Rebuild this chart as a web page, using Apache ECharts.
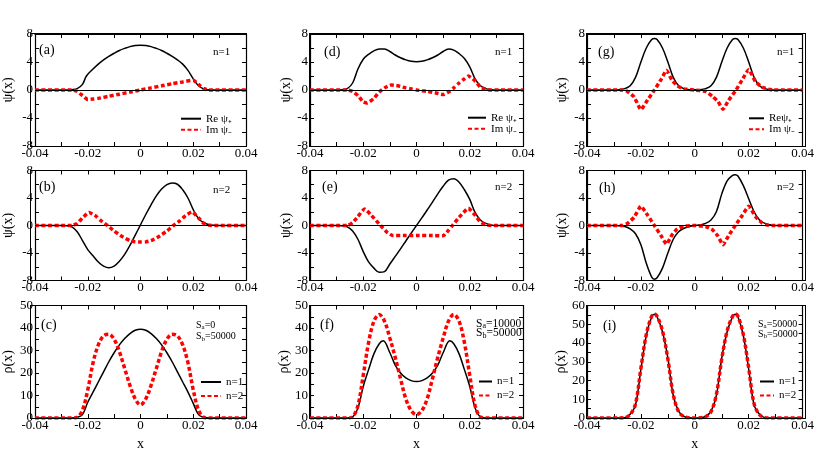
<!DOCTYPE html>
<html>
<head>
<meta charset="utf-8">
<script src="https://cdn.jsdelivr.net/npm/echarts@6/dist/echarts.min.js"></script>
<style>
html, body { margin: 0; background: #fff; }
#wrap { position: relative; width: 817px; height: 476px; }
#wrap div.panel { position: absolute; left: 0; top: 0; width: 817px; height: 476px; }
#wrap div.box { position: absolute; box-sizing: border-box; border: 1.2px solid #000; pointer-events: none; z-index: 10; }
</style>
</head>
<body>
<div id="wrap"></div>
<script>
// x tick labels (shared by every panel)
var xTicks = [-0.04, -0.02, 0, 0.02, 0.04];

// column 1: Sa = 0
var aRe = [[-0.04,0],[-0.028,0],[-0.026,0.05],[-0.024,0.2],[-0.022,0.8],[-0.0205,2.0],[-0.018,3.0],[-0.016,3.7],[-0.014,4.3],[-0.012,4.8],[-0.010,5.25],[-0.008,5.65],[-0.006,5.95],[-0.004,6.2],[-0.002,6.35],[0,6.4],[0.002,6.35],[0.004,6.2],[0.006,5.95],[0.008,5.65],[0.010,5.25],[0.012,4.8],[0.014,4.3],[0.016,3.7],[0.018,2.8],[0.020,1.6],[0.022,0.6],[0.024,0.15],[0.026,0.03],[0.028,0],[0.04,0]];
var aIm = [[-0.04,0],[-0.026,0],[-0.024,-0.2],[-0.022,-0.8],[-0.020,-1.35],[-0.018,-1.3],[-0.016,-1.2],[-0.012,-0.9],[-0.008,-0.6],[-0.004,-0.3],[0,0],[0.004,0.3],[0.008,0.6],[0.012,0.9],[0.016,1.15],[0.020,1.4],[0.022,0.8],[0.024,0.2],[0.026,0],[0.04,0]];
var bRe = [[-0.04,0],[-0.03,0],[-0.028,-0.02],[-0.026,-0.2],[-0.024,-0.9],[-0.022,-2.2],[-0.020,-3.5],[-0.018,-4.4],[-0.016,-5.3],[-0.014,-5.9],[-0.012,-6.15],[-0.010,-5.9],[-0.008,-5.2],[-0.006,-4.2],[-0.004,-2.9],[-0.002,-1.4],[0,0.1],[0.002,1.6],[0.004,3.0],[0.006,4.3],[0.008,5.3],[0.010,5.95],[0.012,6.2],[0.014,6.0],[0.016,5.2],[0.018,4.0],[0.020,2.3],[0.022,1.0],[0.024,0.4],[0.026,0.12],[0.028,0.03],[0.03,0],[0.04,0]];
var bIm = [[-0.04,0],[-0.026,0],[-0.024,0.3],[-0.022,1.1],[-0.0195,1.9],[-0.017,1.4],[-0.015,0.7],[-0.0125,0],[-0.01,-0.8],[-0.007,-1.6],[-0.004,-2.2],[-0.002,-2.38],[0,-2.4],[0.002,-2.38],[0.004,-2.2],[0.007,-1.6],[0.01,-0.8],[0.0125,0],[0.015,0.7],[0.017,1.4],[0.0195,2.0],[0.022,1.1],[0.024,0.3],[0.026,0.05],[0.028,0],[0.04,0]];
var cN1 = [[-0.04,0],[-0.026,0],[-0.024,0.3],[-0.022,1.5],[-0.020,7],[-0.018,11.5],[-0.016,16],[-0.014,20.5],[-0.012,25],[-0.010,29],[-0.008,32.5],[-0.006,35.3],[-0.004,37.5],[-0.002,39],[0,39.5],[0.002,39],[0.004,37.5],[0.006,35.3],[0.008,32.5],[0.010,29],[0.012,25],[0.014,20.5],[0.016,16],[0.018,11.5],[0.020,6.5],[0.022,1.5],[0.024,0.3],[0.026,0],[0.04,0]];
var cN2 = [[-0.04,0],[-0.026,0],[-0.024,0.3],[-0.022,3.5],[-0.020,12.5],[-0.018,24.5],[-0.016,32.5],[-0.014,36.5],[-0.012,37.2],[-0.010,35],[-0.008,29.5],[-0.006,22],[-0.004,14.5],[-0.002,8.5],[0,5.8],[0.002,8.5],[0.004,14.5],[0.006,22],[0.008,29.5],[0.010,35],[0.012,37.2],[0.014,36.5],[0.016,32.5],[0.018,24.5],[0.020,12.5],[0.022,3.5],[0.024,0.3],[0.026,0],[0.04,0]];

// column 2: Sa = 10000
var dRe = [[-0.04,0],[-0.03,0],[-0.028,0.03],[-0.026,0.2],[-0.024,1.0],[-0.022,3.0],[-0.020,4.4],[-0.018,5.1],[-0.016,5.6],[-0.014,5.85],[-0.012,5.85],[-0.010,5.5],[-0.008,5.0],[-0.006,4.6],[-0.004,4.3],[-0.002,4.1],[0,4.05],[0.002,4.1],[0.004,4.3],[0.006,4.6],[0.008,5.0],[0.010,5.5],[0.012,5.85],[0.014,5.7],[0.016,5.2],[0.018,4.5],[0.020,3.3],[0.022,1.6],[0.024,0.6],[0.026,0.2],[0.028,0.05],[0.03,0],[0.04,0]];
var dIm = [[-0.04,0],[-0.026,0],[-0.024,-0.2],[-0.022,-0.8],[-0.020,-1.7],[-0.0185,-1.85],[-0.016,-1.2],[-0.014,-0.3],[-0.012,0.3],[-0.0095,0.7],[-0.007,0.6],[-0.004,0.3],[-0.002,0.15],[0,0],[0.002,-0.1],[0.004,-0.2],[0.007,-0.4],[0.010,-0.65],[0.012,-0.3],[0.014,0.3],[0.016,1.0],[0.018,1.6],[0.0195,2.0],[0.022,1.3],[0.024,0.4],[0.026,0.1],[0.028,0],[0.04,0]];
var eRe = [[-0.04,0],[-0.03,0],[-0.028,-0.05],[-0.026,-0.2],[-0.024,-0.8],[-0.022,-2.0],[-0.020,-3.8],[-0.018,-5.3],[-0.016,-6.2],[-0.014,-6.8],[-0.012,-6.7],[-0.010,-5.6],[-0.008,-4.5],[-0.006,-3.4],[-0.004,-2.25],[-0.002,-1.1],[0,0],[0.002,1.1],[0.004,2.25],[0.006,3.4],[0.008,4.6],[0.010,5.7],[0.012,6.6],[0.014,6.8],[0.016,6.3],[0.018,5.2],[0.020,3.8],[0.022,1.9],[0.024,0.8],[0.026,0.3],[0.028,0.08],[0.03,0],[0.04,0]];
var eIm = [[-0.04,0],[-0.026,0],[-0.024,0.4],[-0.022,1.3],[-0.0195,2.4],[-0.017,1.5],[-0.0135,0],[-0.011,-1.0],[-0.009,-1.45],[-0.005,-1.45],[0,-1.45],[0.005,-1.45],[0.010,-1.5],[0.012,-0.7],[0.0135,0],[0.016,1.2],[0.0195,2.5],[0.022,1.5],[0.024,0.5],[0.026,0.1],[0.028,0],[0.04,0]];
var fN1 = [[-0.04,0],[-0.026,0],[-0.024,0.5],[-0.022,4.5],[-0.020,14],[-0.018,21.5],[-0.016,28.5],[-0.014,33],[-0.0125,34.3],[-0.010,29],[-0.008,23.5],[-0.006,20],[-0.004,17.8],[-0.002,16.6],[0,16.2],[0.002,16.6],[0.004,17.8],[0.006,20],[0.008,23.5],[0.010,29],[0.0125,34.3],[0.014,33],[0.016,28.5],[0.018,21.5],[0.020,14],[0.022,4.5],[0.024,0.5],[0.026,0],[0.04,0]];
var fN2 = [[-0.04,0],[-0.026,0],[-0.024,0.5],[-0.022,5.5],[-0.020,19],[-0.018,33.5],[-0.016,43],[-0.014,46],[-0.012,43],[-0.010,35.5],[-0.008,27],[-0.006,17.5],[-0.004,8.5],[-0.002,3.3],[0,1.5],[0.002,3.3],[0.004,8.5],[0.006,17.5],[0.008,27],[0.010,35.5],[0.012,43],[0.014,46],[0.016,43],[0.018,33.5],[0.020,19],[0.022,5.5],[0.024,0.5],[0.026,0],[0.04,0]];

// column 3: Sa = 50000
var gRe = [[-0.04,0],[-0.03,0],[-0.028,0.05],[-0.026,0.2],[-0.024,0.6],[-0.022,1.8],[-0.020,4.0],[-0.018,6.0],[-0.016,7.2],[-0.015,7.35],[-0.014,7.2],[-0.012,6.0],[-0.010,4.0],[-0.008,1.8],[-0.006,0.6],[-0.004,0.2],[-0.002,0.05],[0,0.02],[0.002,0.05],[0.004,0.2],[0.006,0.6],[0.008,1.8],[0.010,4.0],[0.012,6.0],[0.014,7.2],[0.015,7.35],[0.016,7.2],[0.018,6.0],[0.020,4.0],[0.022,1.8],[0.024,0.6],[0.026,0.2],[0.028,0.05],[0.03,0],[0.04,0]];
var gIm = [[-0.04,0],[-0.027,0],[-0.025,-0.2],[-0.0225,-1.0],[-0.020,-2.8],[-0.0175,-1.4],[-0.015,0],[-0.0125,1.5],[-0.0105,2.8],[-0.0085,1.4],[-0.0065,0.6],[-0.004,0.15],[0,0],[0.004,-0.2],[0.0065,-0.9],[0.0085,-1.6],[0.0105,-2.75],[0.0125,-1.5],[0.0153,0],[0.0175,1.4],[0.020,2.9],[0.0225,1.2],[0.025,0.4],[0.0275,0.1],[0.029,0],[0.04,0]];
var hRe = [[-0.04,0],[-0.03,0],[-0.028,-0.05],[-0.026,-0.15],[-0.024,-0.5],[-0.022,-1.2],[-0.020,-2.8],[-0.018,-5.5],[-0.016,-7.5],[-0.015,-7.8],[-0.014,-7.6],[-0.012,-6.2],[-0.010,-4.0],[-0.008,-2.0],[-0.006,-0.9],[-0.004,-0.4],[-0.002,-0.15],[0,0],[0.002,0.1],[0.004,0.3],[0.006,0.8],[0.008,2.0],[0.010,4.6],[0.012,6.5],[0.014,7.3],[0.015,7.4],[0.016,7.2],[0.018,5.8],[0.020,3.9],[0.022,2.0],[0.024,0.8],[0.026,0.3],[0.028,0.1],[0.03,0],[0.04,0]];
var hIm = [[-0.04,0],[-0.027,0],[-0.025,0.3],[-0.0225,1.2],[-0.020,2.8],[-0.0175,1.5],[-0.015,0],[-0.0125,-1.5],[-0.0105,-2.7],[-0.0085,-1.4],[-0.0065,-0.5],[-0.004,-0.1],[0,0],[0.004,-0.15],[0.0065,-0.6],[0.0085,-1.5],[0.0105,-2.8],[0.0125,-1.5],[0.015,0],[0.0175,1.4],[0.020,2.8],[0.0225,1.3],[0.025,0.35],[0.027,0.05],[0.029,0],[0.04,0]];
var iN1 = [[-0.04,0],[-0.028,0],[-0.026,0.2],[-0.024,2.0],[-0.022,7],[-0.020,26],[-0.018,44],[-0.016,54],[-0.015,55.3],[-0.014,54],[-0.012,46],[-0.010,32],[-0.008,12],[-0.006,3.5],[-0.004,0.8],[-0.002,0.1],[0,0],[0.002,0.1],[0.004,0.8],[0.006,3.5],[0.008,12],[0.010,32],[0.012,46],[0.014,54],[0.015,55.3],[0.016,54],[0.018,44],[0.020,26],[0.022,7],[0.024,2.0],[0.026,0.2],[0.028,0],[0.04,0]];
var iN2 = [[-0.04,0],[-0.028,0],[-0.026,0.2],[-0.024,1.8],[-0.022,7.5],[-0.020,26.5],[-0.018,44.5],[-0.016,54.3],[-0.015,55.5],[-0.014,54.2],[-0.012,46.5],[-0.010,31.5],[-0.008,12.5],[-0.006,3.3],[-0.004,0.7],[-0.002,0.1],[0,0],[0.002,0.1],[0.004,0.7],[0.006,3.3],[0.008,12.5],[0.010,31.5],[0.012,46.5],[0.014,54.2],[0.015,55.5],[0.016,54.3],[0.018,44.5],[0.020,26.5],[0.022,7.5],[0.024,1.8],[0.026,0.2],[0.028,0],[0.04,0]];

var FONT = 'Liberation Serif';
var colLeft = [31, 310, 587], colWidth = [215, 213, 218];
var rowTop = [34, 170.5, 305.5], rowHeight = [112, 110, 112.5];
var yGap = [20, 17, 18];

// one entry per panel
var panels = [
    { col: 0, row: 0, tag: '(a)', black: aRe, red: aIm, names: ['Re ψ₊', 'Im ψ₋'], note: 'n=1',
      lab: [39, 50], notePos: [213, 52], leg: [180, 113.2], legW: 20 },
    { col: 0, row: 1, tag: '(b)', black: bRe, red: bIm, names: ['Re ψ₊', 'Im ψ₋'], note: 'n=2',
      lab: [39, 187], notePos: [213, 190] },
    { col: 0, row: 2, tag: '(c)', black: cN1, red: cN2, names: ['n=1', 'n=2'], sa: '0', rho: true, max: 50,
      lab: [41, 325], notePos: [196, 325], sGap: 11.5, sFont: 10, leg: [200, 376.5], legW: 20 },
    { col: 1, row: 0, tag: '(d)', black: dRe, red: dIm, names: ['Re ψ₊', 'Im ψ₋'], note: 'n=1',
      lab: [324, 52], notePos: [495, 52], leg: [467, 112.2], legW: 18 },
    { col: 1, row: 1, tag: '(e)', black: eRe, red: eIm, names: ['Re ψ₊', 'Im ψ₋'], note: 'n=2',
      lab: [322, 187], notePos: [495, 187] },
    { col: 1, row: 2, tag: '(f)', black: fN1, red: fN2, names: ['n=1', 'n=2'], sa: '10000', rho: true, max: 50,
      lab: [320, 325], notePos: [476, 323.5], sGap: 9.5, sFont: 11.5, leg: [478, 376], legW: 13 },
    { col: 2, row: 0, tag: '(g)', black: gRe, red: gIm, names: ['Reψ₊', 'Im ψ₋'], note: 'n=1',
      lab: [598, 52], notePos: [777, 52], leg: [748, 112.8], legW: 15 },
    { col: 2, row: 1, tag: '(h)', black: hRe, red: hIm, names: ['Reψ₊', 'Im ψ₋'], note: 'n=2',
      lab: [599, 188], notePos: [777, 187] },
    { col: 2, row: 2, tag: '(i)', black: iN1, red: iN2, names: ['n=1', 'n=2'], sa: '50000', rho: true, max: 60,
      lab: [603, 326], notePos: [758, 324], sGap: 10, sFont: 10, leg: [759, 376], legW: 14 }
];

// same axis look on all four sides
function frame(pos) {
    return {
        show: true,
        position: pos,
        axisLine: { show: true, onZero: false, lineStyle: { color: '#000', width: 1.2 } },
        axisTick: { show: true, inside: true, length: 4, lineStyle: { color: '#000', width: 1 } },
        minorTick: { show: true, splitNumber: 2, length: 4, lineStyle: { color: '#000', width: 1 } },
        splitLine: { show: false }
    };
}

var wrap = document.getElementById('wrap');

// each panel is its own chart, stacked on a transparent full-size layer
panels.forEach(function (p) {
    var div = document.createElement('div');
    div.className = 'panel';
    wrap.appendChild(div);
    var chart = echarts.init(div);

    var gl = colLeft[p.col], gt = rowTop[p.row], gw = colWidth[p.col], gh = rowHeight[p.row];

    // plain box outline over the plot area
    var box = document.createElement('div');
    box.className = 'box';
    box.style.left = (gl - 0.6) + 'px';
    box.style.top = (gt - 0.6) + 'px';
    box.style.width = (gw + 1.2) + 'px';
    box.style.height = (gh + 1.2) + 'px';
    wrap.appendChild(box);

    var xr = { type: 'value', min: xTicks[0], max: xTicks[xTicks.length - 1], interval: xTicks[1] - xTicks[0] };
    var xBottom = Object.assign(frame('bottom'), xr, {
        axisLabel: {
            margin: 1, color: '#000', fontFamily: FONT, fontSize: 13,
            formatter: function (v) { return Math.abs(v) < 1e-9 ? '0' : v.toFixed(2); }
        },
        name: p.row === 2 ? 'x' : '', nameLocation: 'middle', nameGap: 19,
        nameTextStyle: { color: '#000', fontFamily: FONT, fontSize: 14 }
    });
    var xTop = Object.assign(frame('top'), xr, { axisLabel: { show: false } });

    var yr = { type: 'value', min: p.rho ? 0 : -8, max: p.rho ? p.max : 8, interval: p.rho ? 10 : 4 };
    var yLeft = Object.assign(frame('left'), yr, {
        axisLabel: { margin: 2, color: '#000', fontFamily: FONT, fontSize: 13 },
        name: p.rho ? 'ρ(x)' : 'ψ(x)', nameLocation: 'middle', nameGap: yGap[p.col], nameRotate: 90,
        nameTextStyle: { color: '#000', fontFamily: FONT, fontSize: 14 }
    });
    var yRight = Object.assign(frame('right'), yr, { axisLabel: { show: false } });

    var black = {
        type: 'line', name: p.names[0], xAxisIndex: 0, yAxisIndex: 0, data: p.black,
        symbol: 'none', smooth: 0.35, z: 3,
        lineStyle: { color: '#000', width: 1.5 }, itemStyle: { color: '#000' }
    };
    if (!p.rho) {
        black.markLine = {
            silent: true, symbol: 'none', label: { show: false },
            lineStyle: { color: '#000', width: 1, type: 'solid' }, data: [{ yAxis: 0 }]
        };
    }
    var red = {
        type: 'line', name: p.names[1], xAxisIndex: 0, yAxisIndex: 0, data: p.red,
        symbol: 'none', smooth: p.rho ? 0.35 : 0.15, z: 4,
        lineStyle: { color: '#ff0000', width: 3.5, type: [4, 2.5] }, itemStyle: { color: '#ff0000' }
    };

    var legend = [];
    if (p.leg) {
        legend.push({
            data: p.names, orient: 'vertical', left: p.leg[0], top: p.leg[1],
            itemWidth: p.legW, itemHeight: 8, itemGap: p.rho ? 3 : 0, padding: 0, selectedMode: false,
            itemStyle: { opacity: 0 },
            textStyle: { color: '#000', fontFamily: FONT, fontSize: 11, lineHeight: p.rho ? 11 : 9 }
        });
    }

    var graphics = [{
        type: 'text', x: p.lab[0], y: p.lab[1],
        style: { text: p.tag, fill: '#000', font: '14px "Liberation Serif"', verticalAlign: 'middle' }
    }];
    if (p.rho) {
        var subs = { s: { fontSize: p.sFont * 0.7, fontFamily: FONT, padding: [5, 0, 0, 0] } };
        var f = p.sFont + 'px "Liberation Serif"';
        graphics.push({
            type: 'text', x: p.notePos[0], y: p.notePos[1],
            style: { text: 'S{s|a}=' + p.sa, fill: '#000', font: f, verticalAlign: 'middle', rich: subs }
        });
        graphics.push({
            type: 'text', x: p.notePos[0], y: p.notePos[1] + p.sGap,
            style: { text: 'S{s|b}=50000', fill: '#000', font: f, verticalAlign: 'middle', rich: subs }
        });
    } else {
        graphics.push({
            type: 'text', x: p.notePos[0], y: p.notePos[1],
            style: { text: p.note, fill: '#000', font: '11px "Liberation Serif"', verticalAlign: 'middle' }
        });
    }

    chart.setOption({
        animation: false,
        grid: [{ left: gl, top: gt, width: gw, height: gh }],
        xAxis: [xBottom, xTop],
        yAxis: [yLeft, yRight],
        legend: legend,
        series: [black, red],
        graphic: graphics
    });
});
</script>
</body>
</html>
